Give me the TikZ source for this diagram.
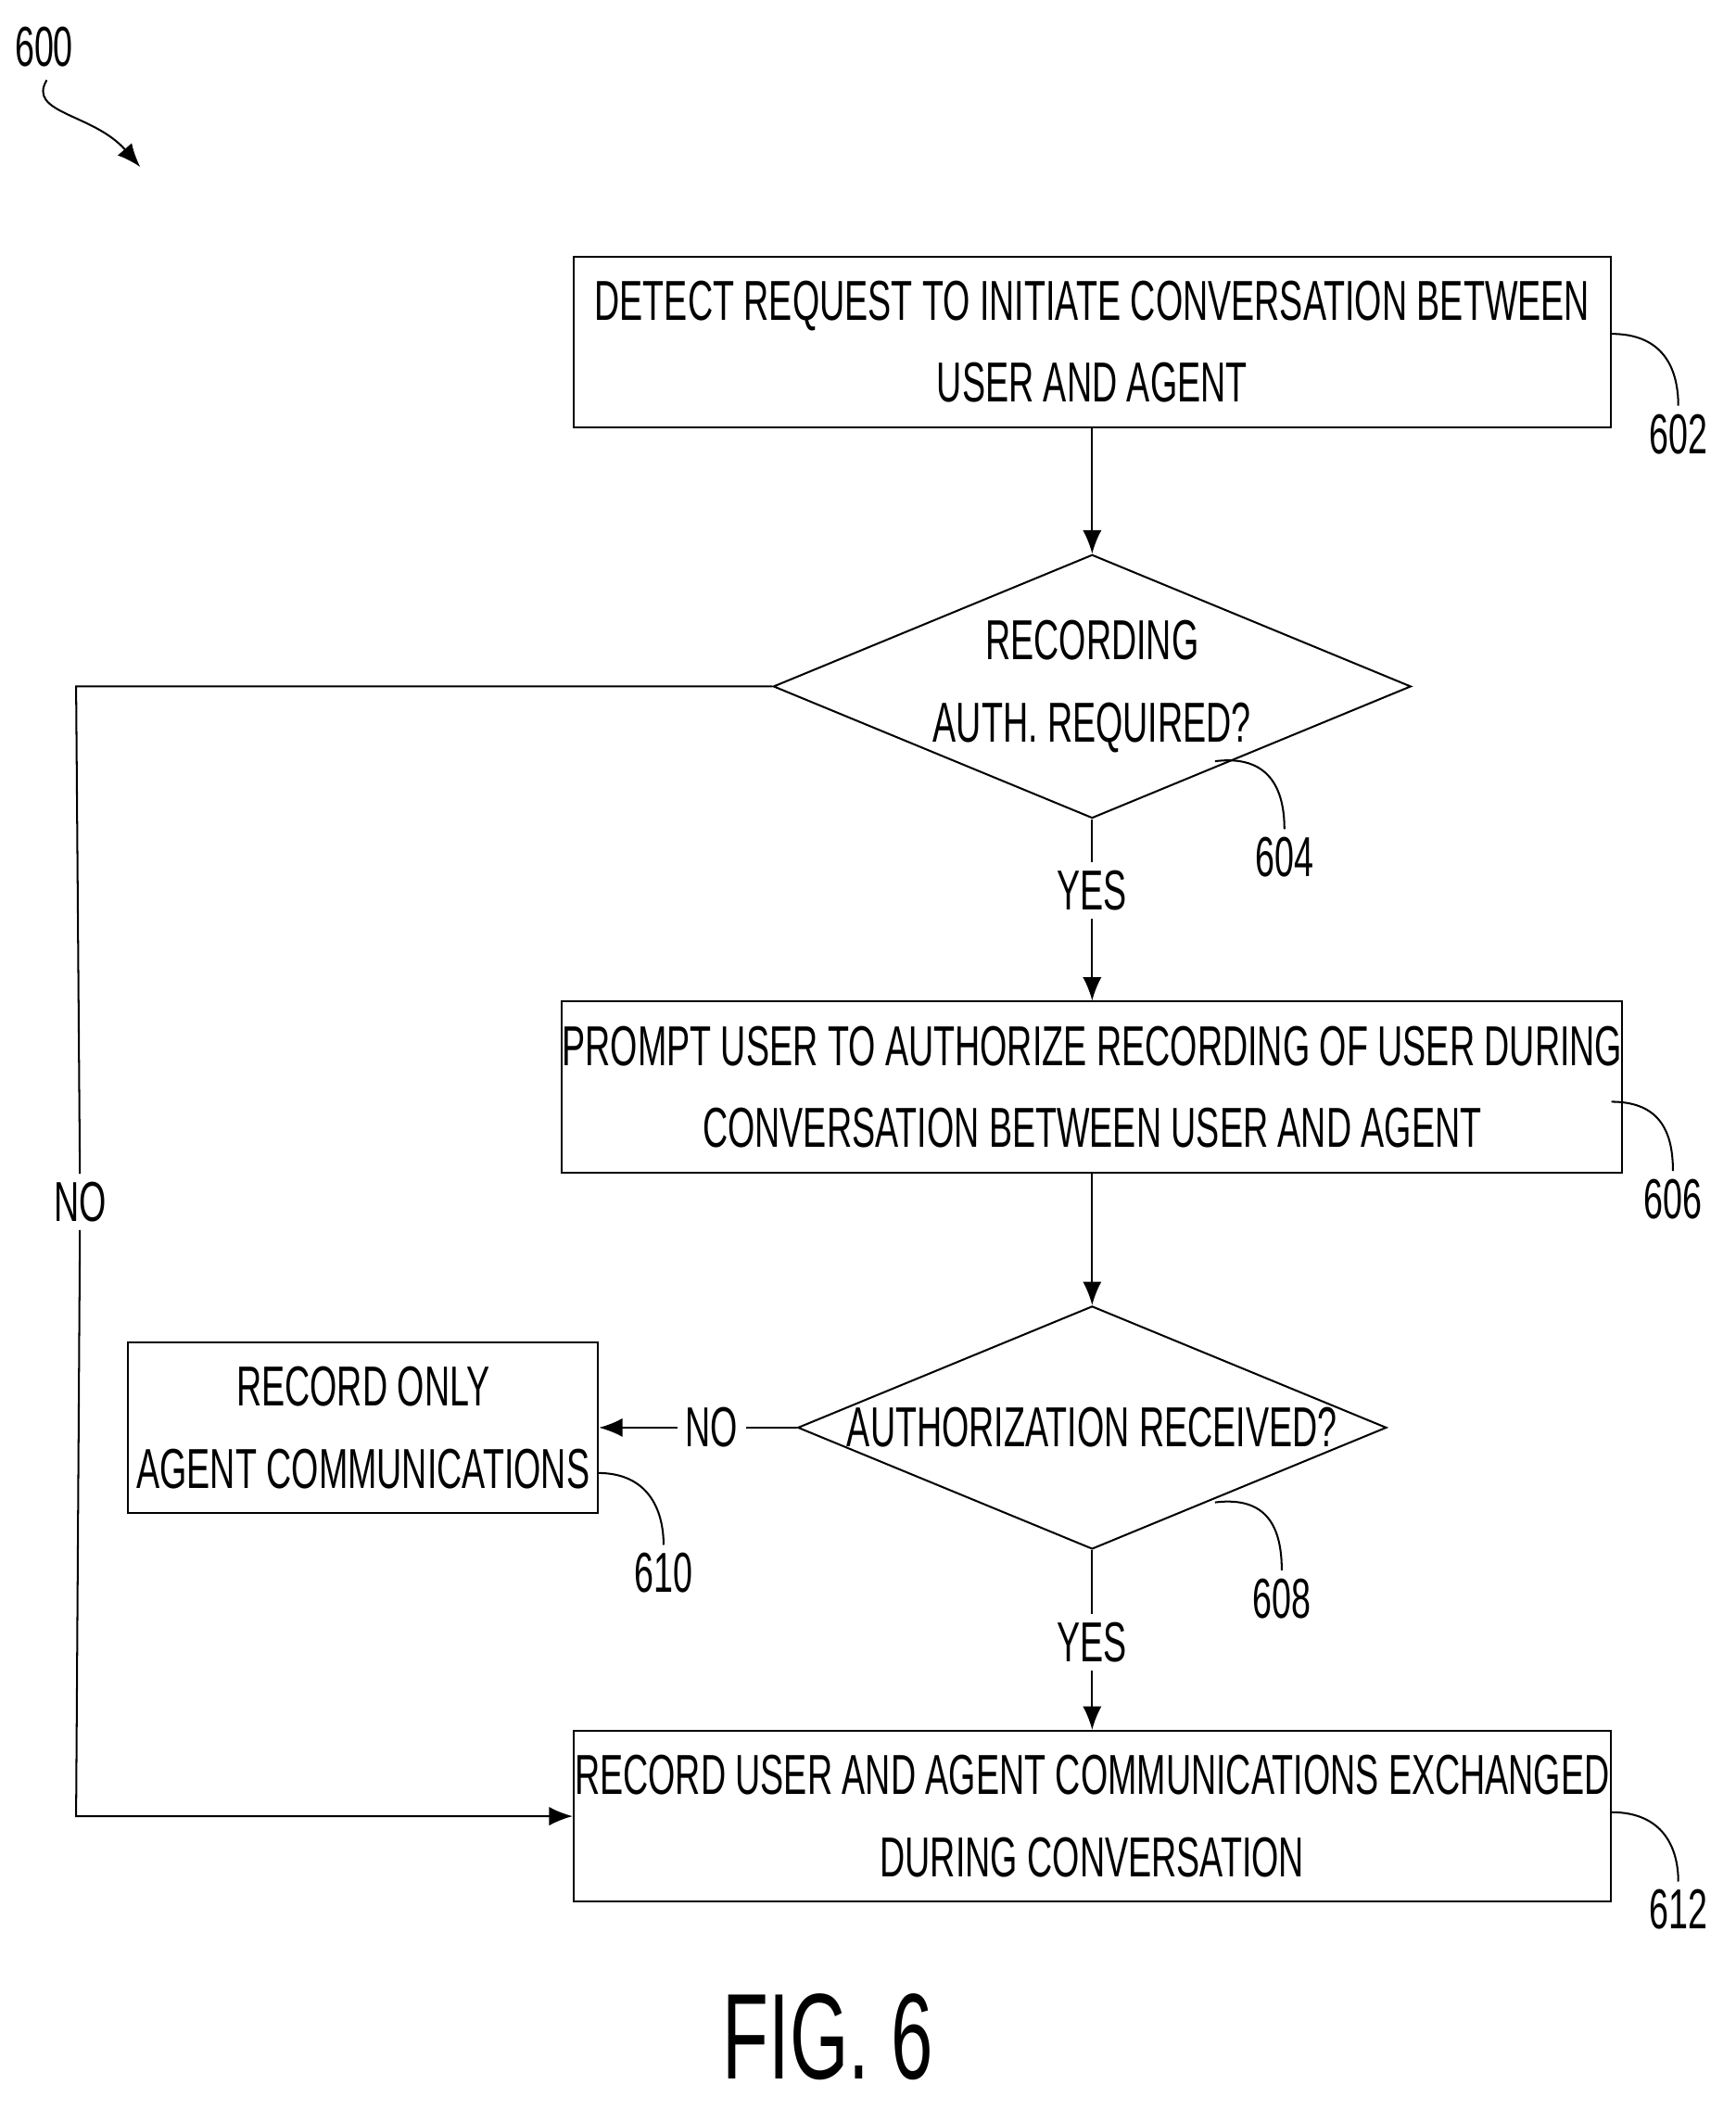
\documentclass[tikz,border=0pt]{standalone}
\usepackage{fontspec}
\setmainfont{Liberation Sans}[FakeStretch=0.62]
\usetikzlibrary{shapes.geometric,arrows.meta}
\tikzset{
  stepbox/.style={draw,thick,rectangle,minimum width=15.54cm,minimum height=2.56cm,align=center,font=\fontsize{24}{35}\selectfont,inner sep=0pt},
  test/.style={draw,thick,diamond,aspect=2.42,minimum width=8.82cm,minimum height=3.64cm,align=center,font=\fontsize{24}{35}\selectfont,inner sep=0pt},
  lbl/.style={font=\fontsize{24}{28}\selectfont},
  flow/.style={thick,-{Latex[length=10pt,width=8pt]}},
  lead/.style={thick}
}
\begin{document}
\begin{tikzpicture}[x=0.02cm,y=-0.02cm]
		\useasboundingbox (0,0) rectangle (1300,1580);
		% boxes and decisions
		\node[stepbox] (detect) at (818,256) {DETECT REQUEST TO INITIATE CONVERSATION BETWEEN\\USER AND AGENT};
		\node[test] (authreq) at (818,514) {RECORDING\\AUTH. REQUIRED?};
		\node[stepbox] (prompt) at (818,814) {PROMPT USER TO AUTHORIZE RECORDING OF USER DURING\\CONVERSATION BETWEEN USER AND AGENT};
		\node[test] (received) at (818,1069) {AUTHORIZATION RECEIVED?};
		\node[stepbox,minimum width=7.04cm] (agentonly) at (272,1069) {RECORD ONLY\\AGENT COMMUNICATIONS};
		\node[stepbox] (recordall) at (818,1360) {RECORD USER AND AGENT COMMUNICATIONS EXCHANGED\\DURING CONVERSATION};
		% branch labels
		\node[lbl] (yesA) at (818,667) {YES};
		\node[lbl] (yesB) at (818,1230) {YES};
		\node[lbl] (noA) at (533,1069) {NO};
		\node[lbl] (noB) at (60,900) {NO};
		\coordinate (cornerA) at (57,514);
		\coordinate (cornerB) at (57,1360);
		% connectors
		\draw[flow] (detect)--(authreq);
		\draw[thick] (authreq)--(yesA);
		\draw[flow] (yesA)--(prompt);
		\draw[flow] (prompt)--(received);
		\draw[thick] (received)--(noA);
		\draw[flow] (noA)--(agentonly);
		\draw[thick] (received)--(yesB);
		\draw[flow] (yesB)--(recordall);
		\draw[thick] (authreq.west)--(cornerA)--(noB);
		\draw[flow] (noB)--(cornerB)--(recordall.west);
		% reference numerals
		\node[lbl] (n600) at (33,35) {600};
		\node[lbl] (n602) at (1257,325) {602};
		\node[lbl] (n604) at (962,642) {604};
		\node[lbl] (n606) at (1253,898) {606};
		\node[lbl] (n608) at (960,1197) {608};
		\node[lbl] (n610) at (497,1178) {610};
		\node[lbl] (n612) at (1257,1430) {612};
		\draw[flow] (35,60) .. controls (20,85) and (70,85) .. (105,125);
		\draw[lead] (1207,250) .. controls (1245,250) and (1257,275) .. (n602.north);
		\draw[lead] (910,570) .. controls (950,565) and (962,590) .. (n604.north);
		\draw[lead] (1207,825) .. controls (1245,825) and (1253,850) .. (n606.north);
		\draw[lead] (910,1125) .. controls (950,1120) and (960,1145) .. (n608.north);
		\draw[lead] (448,1103) .. controls (485,1103) and (497,1130) .. (n610.north);
		\draw[lead] (1207,1357) .. controls (1245,1357) and (1257,1383) .. (n612.north);
		\node[font=\fontsize{52}{60}\selectfont] (fig) at (620,1525) {FIG. 6};
	\end{tikzpicture}
\end{document}
